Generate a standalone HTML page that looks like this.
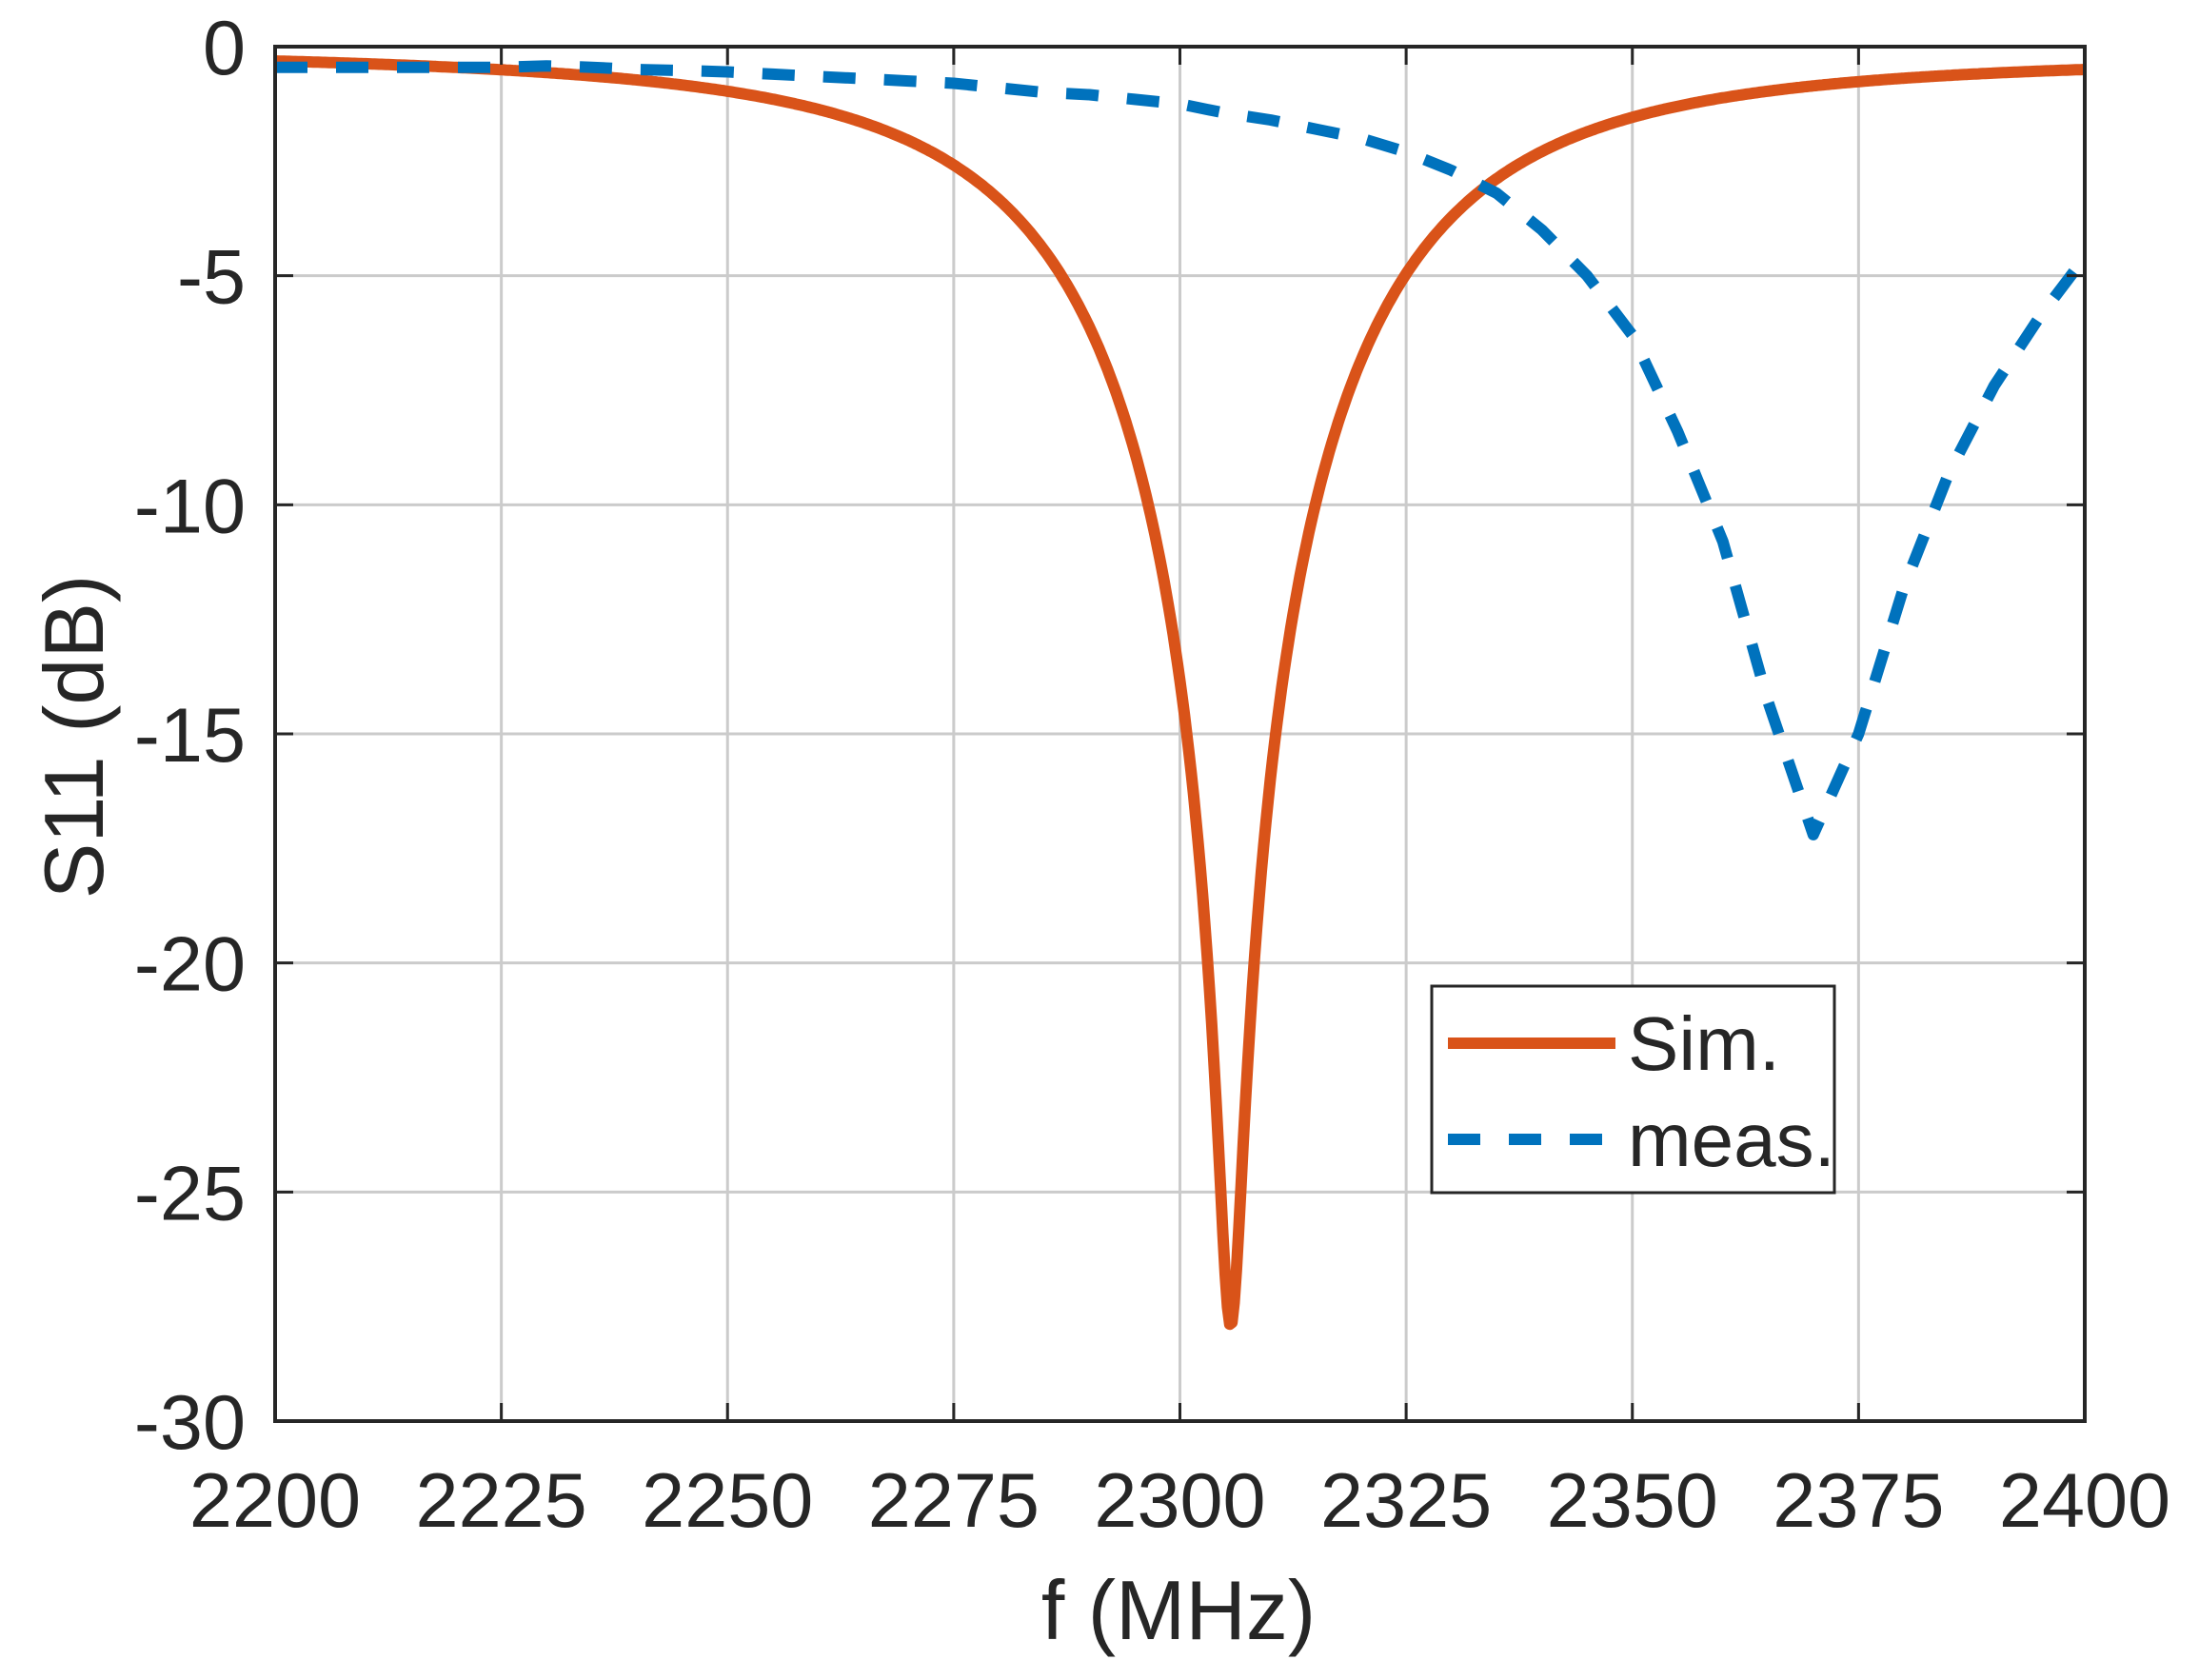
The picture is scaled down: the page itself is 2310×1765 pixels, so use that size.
<!DOCTYPE html>
<html><head><meta charset="utf-8"><style>
html,body{margin:0;padding:0;background:#fff;}
svg{display:block;}
text{font-family:"Liberation Sans",Arial,sans-serif;fill:#262626;}
</style></head><body>
<svg id="s" width="2310" height="1765" viewBox="0 0 2310 1765" xmlns="http://www.w3.org/2000/svg">
<rect width="2310" height="1765" fill="#fff"/>
<g id="grid" stroke="#cbcbcb" stroke-width="3"></g>
<g id="series" fill="none" stroke-linejoin="round"></g>
<g id="ticks" stroke="#262626" stroke-width="3"></g>
<rect x="289" y="49" width="1901" height="1444" fill="none" stroke="#262626" stroke-width="4"/>
<g id="labels" font-size="81"></g>
<text x="1238" y="1722" font-size="88" text-anchor="middle">f (MHz)</text>
<text transform="translate(108,774) rotate(-90)" font-size="88" text-anchor="middle">S11 (dB)</text>
<rect x="1504" y="1036" width="423" height="217" fill="#fff" stroke="#262626" stroke-width="3"/>
<line x1="1521" y1="1096" x2="1697" y2="1096" stroke="#D95319" stroke-width="12"/>
<line x1="1521" y1="1197" x2="1697" y2="1197" stroke="#0072BD" stroke-width="12" stroke-dasharray="34 30"/>
<text x="1710" y="1124" font-size="80" fill="#000">Sim.</text>
<text x="1710" y="1225" font-size="80" fill="#000">meas.</text>
</svg>
<script>
var L=289,R=2190,T=49,B=1493;
function X(f){return L+(f-2200)*(R-L)/200;}
function Y(d){return T+(-d)*(B-T)/30;}
var ns="http://www.w3.org/2000/svg";
function el(p,n,a,t){var e=document.createElementNS(ns,n);for(var k in a)e.setAttribute(k,a[k]);if(t)e.textContent=t;document.getElementById(p).appendChild(e);}
for(var f=2225;f<2400;f+=25){el('grid','line',{x1:X(f),y1:T,x2:X(f),y2:B});}
for(var d=-5;d>-30;d-=5){el('grid','line',{x1:L,y1:Y(d),x2:R,y2:Y(d)});}
for(var f=2200;f<=2400;f+=25){var x=X(f);el('ticks','line',{x1:x,y1:B,x2:x,y2:B-19});el('ticks','line',{x1:x,y1:T,x2:x,y2:T+19});
 el('labels','text',{x:x,y:1604,'text-anchor':'middle'},String(f));}
for(var d=0;d>=-30;d-=5){var y=Y(d);el('ticks','line',{x1:L,y1:y,x2:L+19,y2:y});el('ticks','line',{x1:R,y1:y,x2:R-19,y2:y});
 el('labels','text',{x:258,y:y+29,'text-anchor':'end'},String(d));}
var p='',R0=1.084,f0=2305.6;
for(var f=2200;f<=2400;f+=0.25){var k=f<f0?0.076:0.074;var Xv=k*(f-f0);
 var g2=((R0-1)*(R0-1)+Xv*Xv)/((R0+1)*(R0+1)+Xv*Xv);var db=10*Math.log10(g2)-0.03-(f>f0?0.1*(f-f0)/95:0);
 p+=(p?'L':'M')+X(f).toFixed(1)+' '+Y(db).toFixed(1);}
el('series','path',{d:p,stroke:'#D95319','stroke-width':12});
var m=[-0.45,-0.45,-0.45,-0.45,-0.45,-0.45,-0.42,-0.45,-0.5,-0.52,-0.55,-0.6,-0.65,-0.7,-0.75,-0.8,-0.9,-1.0,-1.05,-1.15,-1.25,-1.45,-1.6,-1.8,-2.0,-2.3,-2.7,-3.2,-4.0,-5.0,-6.3,-8.4,-10.8,-14.3,-17.2,-15.0,-11.8,-9.3,-7.4,-5.9,-4.6];
var q='';for(var i=0;i<m.length;i++){q+=(q?'L':'M')+X(2200+5*i).toFixed(1)+' '+Y(m[i]).toFixed(1);}
el('series','path',{d:q,stroke:'#0072BD','stroke-width':12,'stroke-dasharray':'34 30'});
</script>
</body></html>
